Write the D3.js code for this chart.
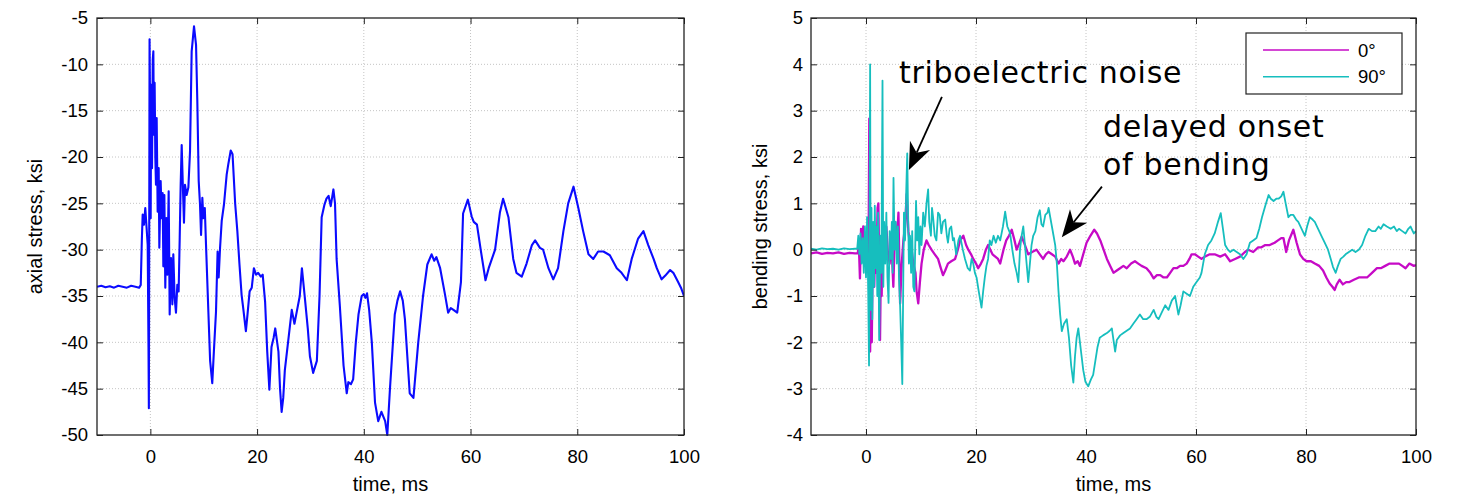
<!DOCTYPE html>
<html>
<head>
<meta charset="utf-8">
<script src="https://cdn.jsdelivr.net/npm/d3@7"></script>
<style>
  body { margin: 0; background: #fff; }
  svg { display: block; }
  .tick text { font-family: "Liberation Sans", Arial, sans-serif; font-size: 18.5px; fill: #000; }
</style>
</head>
<body>
<svg id="chart" width="1458" height="496"></svg>
<script>
// ---- data: time (ms), stress (ksi) ----
const axialStress = [
  [-10,-34.0],[-9.2,-33.9],[-8.4,-34.05],[-7.6,-33.95],[-6.8,-34.1],[-6,-33.9],[-5.2,-34.0],[-4.4,-34.1],
  [-3.6,-33.9],[-2.8,-34.0],[-2.1,-34.1],[-1.8,-33.8],[-1.6,-29],[-1.44,-26.2],[-1.2,-27.3],[-0.95,-25.5],
  [-0.7,-27.7],[-0.5,-29.5],[-0.35,-40.5],[-0.28,-47.1],[-0.22,-30],[-0.15,-7.3],[-0.05,-15],[0.06,-26.6],
  [0.15,-12.2],[0.31,-21.2],[0.45,-9.5],[0.56,-8.6],[0.66,-17.6],[0.8,-12],[0.93,-20],[1.05,-23],
  [1.18,-15.8],[1.37,-25.9],[1.56,-21.2],[1.68,-29.8],[1.93,-22.6],[2.12,-26.6],[2.3,-23.9],[2.43,-31.8],
  [2.62,-24.1],[2.8,-34.1],[2.99,-26.6],[3.18,-32.7],[3.43,-23.7],[3.62,-37],[3.87,-30.9],[4.12,-35.9],
  [4.3,-30.5],[4.55,-35.2],[4.8,-36.8],[5.05,-33.8],[5.3,-34.5],[5.5,-28.7],[5.68,-23],[5.87,-18.7],
  [6.06,-22.6],[6.3,-27.1],[6.49,-23],[6.8,-24.1],[7.12,-23.3],[7.43,-19.4],[7.74,-8.6],[8.18,-5.9],
  [8.56,-7.9],[8.8,-14],[9.06,-22.6],[9.3,-25.1],[9.5,-28.4],[9.74,-24.4],[9.93,-26.6],[10.2,-25.5],
  [10.43,-29.5],[10.87,-36.7],[11.2,-42],[11.6,-44.4],[11.9,-41],[12.3,-36.7],[12.6,-30.2],[12.8,-33],
  [13.06,-29.8],[13.37,-26.9],[13.8,-25.1],[14.3,-21.9],[14.6,-20.8],[15.06,-19.3],[15.4,-19.7],[15.9,-25.1],
  [16.3,-28],[16.7,-31.6],[17.1,-34.9],[17.4,-36.3],[17.9,-38.8],[18.2,-37],[18.6,-34.5],[19.0,-34.1],
  [19.4,-32],[19.8,-32.7],[20.2,-32.5],[20.7,-32.9],[21.05,-32.7],[21.5,-35.6],[21.9,-41],[22.3,-45.1],
  [22.7,-40.5],[23.1,-39.5],[23.4,-38.5],[24.0,-41],[24.3,-45],[24.6,-47.5],[24.9,-46],[25.2,-43],
  [25.8,-40],[26.5,-36.5],[27.0,-38],[27.5,-36.5],[28.0,-35],[28.4,-32],[29.0,-35.5],[29.5,-38.5],
  [29.9,-41.5],[30.5,-43.3],[31.2,-42],[31.7,-35],[32.1,-26.5],[32.6,-25.2],[33.0,-24.5],[33.4,-24.2],
  [33.8,-25.3],[34.3,-23.5],[34.6,-25],[34.9,-31],[35.5,-36],[36.2,-42.5],[36.8,-45.5],[37.1,-44.3],
  [37.6,-44.5],[38.0,-44],[38.5,-40],[39.0,-37],[39.6,-35],[40.0,-34.8],[40.3,-35.2],[40.6,-34.7],
  [41.0,-36.5],[41.5,-40],[42.1,-46.5],[42.7,-48.5],[43.3,-47.5],[44.0,-48.5],[44.4,-50],[44.9,-45],
  [45.8,-37],[46.3,-35.5],[46.8,-34.5],[47.3,-35.5],[47.7,-37.5],[48.6,-45.5],[49.3,-46],[50.2,-40],
  [51.1,-35],[51.9,-31.6],[52.7,-30.5],[53.2,-31.2],[53.6,-30.8],[54.3,-32],[55.2,-34.8],[55.8,-36.8],
  [56.3,-36.3],[56.8,-36.5],[57.5,-36.8],[58.2,-33.5],[58.6,-26.1],[59.5,-24.6],[60.2,-26.4],[60.6,-27],
  [61.2,-27.3],[61.9,-30],[62.8,-33.3],[63.4,-32],[64.0,-31],[64.6,-30],[65.5,-26],[66.1,-24.5],
  [67.1,-26.5],[68.0,-31],[68.6,-32.5],[69.6,-32.9],[70.5,-31.5],[71.5,-29.5],[72.1,-29],[73.0,-29.8],
  [73.6,-30],[74.6,-32],[75.5,-33.2],[76.4,-32],[77.4,-28],[78.3,-25],[79.3,-23.2],[80.2,-25.5],
  [81.1,-28],[82.1,-30.5],[83.0,-31],[83.9,-30.2],[84.9,-30.2],[86.1,-30.6],[87.4,-32],[88.3,-32.5],
  [89.3,-33.3],[90.2,-31],[91.4,-28.8],[92.4,-28],[93.3,-29.5],[94.3,-31],[94.9,-32],[95.8,-33.2],
  [96.5,-32.8],[97.4,-32.2],[98.0,-32.5],[98.9,-33.5],[99.5,-34.2],[100,-35]
];

const bending0 = [
  [-10,-0.08],[-9,-0.06],[-8,-0.09],[-7,-0.07],[-6,-0.08],[-5,-0.06],[-4,-0.09],[-3,-0.07],[-2,-0.08],
  [-1.5,-0.08],[-1.3,0.1],[-1.1,-0.62],[-0.9,0.45],[-0.7,0.0],[-0.5,0.5],[-0.3,-0.3],[-0.1,0.3],[0.1,-0.4],
  [0.3,0.2],[0.45,-0.5],[0.6,2.83],[0.75,-2.2],[0.9,-0.5],[1.05,-2.0],[1.2,-0.3],[1.35,0.5],[1.5,-0.8],
  [1.7,0.2],[1.9,-0.5],[2.1,0.9],[2.25,1.0],[2.4,-0.3],[2.55,-1.95],[2.7,-0.4],[2.85,-1.0],[3.0,0.3],
  [3.2,-0.2],[3.4,0.4],[3.7,0.5],[4.0,-0.1],[4.3,-0.3],[4.6,0.2],[4.97,-0.8],[5.3,0.6],[5.6,0.1],
  [5.9,0.8],[6.2,-1.16],[6.5,-0.3],[6.8,0.2],[7.1,0.5],[7.4,1.2],[7.7,0.4],[8.0,0.1],[8.3,0.0],
  [8.6,-0.3],[9.0,-0.5],[9.2,-0.9],[9.5,-1.16],[9.8,-0.7],[10.1,-0.3],[10.5,0.0],[11.0,0.2],[11.4,0.1],
  [11.9,0.0],[12.5,-0.1],[13.1,-0.2],[13.6,-0.4],[14.0,-0.55],[14.4,-0.45],[14.9,-0.3],[15.5,-0.25],
  [16.2,-0.2],[16.7,0.0],[17.1,0.2],[17.7,0.3],[18.2,0.1],[18.6,0.0],[19.1,-0.1],[19.5,-0.2],[20.0,-0.3],
  [20.4,-0.4],[20.9,-0.3],[21.3,-0.2],[21.8,0.0],[22.2,0.1],[22.6,0.0],[23.0,-0.1],[23.5,-0.15],
  [24.0,-0.2],[24.4,-0.3],[25.0,0.0],[25.5,0.2],[26.0,0.3],[26.5,0.43],[27.0,0.2],[27.4,0.0],[27.9,0.15],
  [28.3,0.28],[28.9,0.1],[29.5,-0.1],[30.2,-0.05],[31.0,0.0],[31.6,-0.1],[32.2,-0.2],[32.7,-0.1],
  [33.2,-0.05],[33.8,-0.1],[34.4,-0.15],[35.0,-0.3],[35.5,-0.2],[35.9,-0.25],[36.5,-0.15],[37.1,0.0],
  [37.6,-0.15],[38.0,-0.3],[38.5,-0.25],[38.9,-0.35],[39.5,-0.1],[40.1,0.15],[40.8,0.3],[41.5,0.43],
  [42.0,0.35],[42.6,0.2],[43.2,0.0],[43.8,-0.2],[44.4,-0.35],[45.0,-0.5],[45.6,-0.45],[46.2,-0.4],
  [46.8,-0.35],[47.4,-0.4],[48.2,-0.3],[48.9,-0.25],[49.5,-0.3],[50.1,-0.35],[51.0,-0.4],[51.7,-0.5],
  [52.3,-0.62],[52.9,-0.55],[53.5,-0.55],[54.1,-0.6],[54.7,-0.6],[55.3,-0.5],[55.9,-0.4],[56.5,-0.4],
  [57.1,-0.35],[57.7,-0.35],[58.3,-0.3],[58.8,-0.2],[59.2,-0.1],[59.8,-0.1],[60.4,-0.15],[61.0,-0.2],
  [61.6,-0.15],[62.5,-0.1],[63.4,-0.1],[64.4,-0.15],[65.3,-0.1],[66.2,-0.25],[67.1,-0.2],[68.0,-0.15],
  [68.9,-0.05],[69.5,0.0],[70.4,-0.05],[71.3,0.05],[71.9,0.05],[72.6,0.1],[73.4,0.1],[74.3,0.15],
  [74.9,0.2],[75.5,0.25],[75.9,0.25],[76.4,-0.05],[76.9,0.2],[77.7,0.43],[78.3,0.15],[78.9,-0.1],
  [79.5,-0.2],[80.1,-0.25],[80.9,-0.25],[81.6,-0.3],[82.4,-0.35],[83.1,-0.45],[83.7,-0.6],[84.3,-0.73],
  [84.8,-0.8],[85.2,-0.87],[85.6,-0.75],[86.1,-0.65],[86.7,-0.75],[87.3,-0.7],[87.9,-0.7],[88.7,-0.65],
  [89.6,-0.6],[90.3,-0.6],[91.1,-0.6],[92.0,-0.5],[92.9,-0.4],[93.6,-0.4],[94.4,-0.35],[95.2,-0.3],
  [96.0,-0.3],[96.9,-0.3],[97.5,-0.35],[98.1,-0.4],[98.8,-0.3],[99.6,-0.35],[100,-0.33]
];

const bending90 = [
  [-10,0.02],[-9,0.0],[-8,0.03],[-7,0.01],[-6,0.02],[-5,0.0],[-4,0.03],[-3,0.01],[-2,0.02],[-1.6,0.02],
  [-1.4,0.3],[-1.2,-0.1],[-1.0,0.35],[-0.8,-0.3],[-0.6,0.25],[-0.4,-0.5],[-0.2,0.5],[0.0,-0.6],[0.2,0.7],
  [0.4,-0.9],[0.55,-2.5],[0.65,0.5],[0.75,4.0],[0.85,-1.3],[1.0,0.9],[1.15,-1.5],[1.3,0.6],[1.45,-0.8],
  [1.6,0.95],[1.75,-0.4],[1.9,0.5],[2.05,-1.0],[2.2,0.8],[2.4,-1.95],[2.6,0.3],[2.8,-0.5],[3.0,3.65],
  [3.15,-0.8],[3.3,0.6],[3.5,-0.3],[3.7,0.8],[3.9,-0.6],[4.1,-1.15],[4.3,0.4],[4.5,-0.2],[4.7,0.6],
  [4.85,-0.5],[5.0,1.55],[5.2,0.0],[5.4,0.6],[5.6,-0.3],[5.8,0.5],[6.0,-0.6],[6.2,-1.2],[6.4,-2.0],
  [6.6,-2.9],[6.75,-1.0],[6.9,0.8],[7.1,0.2],[7.3,1.2],[7.5,2.08],[7.65,0.8],[7.8,-0.3],[8.0,0.3],
  [8.2,-0.5],[8.4,0.4],[8.6,-0.8],[8.8,-0.9],[9.0,0.4],[9.1,1.05],[9.3,0.2],[9.5,0.7],[9.7,-0.1],
  [9.9,0.5],[10.1,0.1],[10.4,0.8],[10.7,0.5],[11.0,1.0],[11.3,1.3],[11.5,0.6],[11.8,0.3],[12.0,0.9],
  [12.2,0.7],[12.5,0.3],[12.8,0.2],[13.1,0.8],[13.4,0.75],[13.7,0.35],[14.0,0.6],[14.4,0.65],[14.7,0.3],
  [14.9,0.15],[15.2,0.45],[15.5,0.5],[15.8,0.2],[16.0,0.25],[16.4,-0.1],[16.8,0.2],[17.1,0.3],[17.6,0.0],
  [18.0,-0.2],[18.5,-0.4],[18.9,-0.45],[19.2,-0.2],[19.5,-0.3],[19.8,-0.5],[20.1,-0.6],[20.5,-0.9],
  [21.0,-1.25],[21.3,-0.9],[21.6,-0.6],[21.9,-0.35],[22.2,-0.2],[22.5,0.2],[22.8,0.1],[23.2,0.3],
  [23.6,0.15],[24.0,0.3],[24.4,0.2],[24.9,0.5],[25.3,0.82],[25.7,0.5],[26.2,0.35],[26.6,0.0],[27.0,-0.3],
  [27.4,-0.5],[27.7,-0.7],[28.0,0.0],[28.3,0.3],[28.6,0.5],[28.9,0.1],[29.2,-0.3],[29.5,-0.7],[29.8,-0.3],
  [30.1,0.1],[30.4,0.3],[30.8,0.4],[31.2,0.7],[31.6,0.85],[31.9,0.55],[32.2,0.5],[32.6,0.75],[33.0,0.8],
  [33.2,0.9],[33.5,0.7],[33.8,0.5],[34.1,0.3],[34.4,0.1],[34.7,-0.3],[35.0,-0.9],[35.3,-1.4],[35.6,-1.76],
  [36.0,-1.6],[36.5,-1.5],[36.9,-1.9],[37.3,-2.5],[37.7,-2.87],[38.0,-2.3],[38.3,-1.9],[38.6,-1.7],
  [38.9,-2.0],[39.2,-2.3],[39.5,-2.6],[39.9,-2.85],[40.4,-2.95],[40.9,-2.8],[41.3,-2.7],[41.7,-2.4],
  [42.1,-2.1],[42.5,-1.9],[43.1,-1.85],[43.8,-1.8],[44.3,-1.75],[44.7,-1.7],[45.0,-1.95],[45.3,-2.2],
  [45.6,-1.95],[46.2,-1.85],[46.8,-1.8],[47.4,-1.75],[48.0,-1.7],[48.6,-1.6],[49.2,-1.5],[49.8,-1.4],
  [50.4,-1.5],[51.0,-1.5],[51.6,-1.45],[52.3,-1.3],[52.8,-1.45],[53.2,-1.5],[53.8,-1.35],[54.4,-1.2],
  [55.0,-1.3],[55.6,-1.1],[56.2,-1.0],[56.8,-1.4],[57.2,-1.2],[57.7,-0.9],[58.3,-0.95],[58.9,-1.0],
  [59.5,-0.8],[60.1,-0.7],[60.7,-0.6],[61.0,-0.5],[61.3,-0.3],[61.6,-0.1],[62.2,0.1],[62.8,0.2],
  [63.4,0.35],[64.0,0.6],[64.5,0.79],[64.9,0.45],[65.3,0.1],[65.8,0.0],[66.2,-0.05],[66.8,0.0],
  [67.4,-0.05],[68.0,-0.1],[68.6,-0.2],[69.2,-0.1],[69.8,0.15],[70.4,0.2],[71.0,0.25],[71.5,0.45],
  [72.0,0.7],[72.6,0.95],[73.2,1.18],[73.6,1.1],[74.1,1.05],[74.6,1.1],[75.0,1.1],[75.5,1.15],[75.9,1.25],
  [76.3,1.0],[76.8,0.7],[77.2,0.75],[77.7,0.75],[78.2,0.65],[78.6,0.6],[79.2,0.45],[79.8,0.3],[80.2,0.5],
  [80.7,0.7],[81.2,0.65],[81.6,0.6],[82.2,0.45],[82.8,0.3],[83.4,0.15],[84.0,0.0],[84.5,-0.2],[84.9,-0.37],
  [85.4,-0.5],[85.8,-0.35],[86.3,-0.2],[86.8,-0.15],[87.2,-0.1],[87.8,-0.05],[88.4,0.0],[89.0,-0.05],
  [89.6,0.0],[90.2,0.1],[90.8,0.3],[91.4,0.45],[92.0,0.4],[92.6,0.4],[93.2,0.5],[93.6,0.45],[94.1,0.55],
  [94.7,0.5],[95.4,0.45],[96.0,0.5],[96.5,0.4],[96.9,0.45],[97.5,0.4],[98.1,0.35],[98.6,0.45],[99.0,0.5],
  [99.6,0.35],[100,0.4]
];

const timeTicks = [0, 20, 40, 60, 80, 100];
const axialTicks = [-50, -45, -40, -35, -30, -25, -20, -15, -10, -5];
const bendingTicks = [-4, -3, -2, -1, 0, 1, 2, 3, 4, 5];
const legendLabels = ["0\u00B0", "90\u00B0"];

// ---- drawing ----
const svg = d3.select("#chart");
const LABEL_FONT = "'Liberation Sans', Arial, sans-serif";
const plain = d => String(d);   // ASCII hyphen for negative tick labels

function panel(cfg) {
  const { left, top, right, bottom, yDomain, yTicks, yLabel, labelX, tickPad, id } = cfg;
  const x = d3.scaleLinear().domain([-10, 100]).range([left, right]);
  const y = d3.scaleLinear().domain(yDomain).range([bottom, top]);
  const g = svg.append("g");

  // dotted grid
  const grid = g.append("g").attr("stroke", "#c4c4c4").attr("stroke-width", 1)
    .attr("stroke-dasharray", "1,2");
  grid.selectAll(".gx").data(timeTicks.filter(t => t < 100)).join("line")
    .attr("x1", d => x(d)).attr("x2", d => x(d)).attr("y1", top).attr("y2", bottom);
  grid.selectAll(".gy").data(yTicks.filter(v => v > yDomain[0] && v < yDomain[1])).join("line")
    .attr("y1", d => y(d)).attr("y2", d => y(d)).attr("x1", left).attr("x2", right);

  // data lines
  g.append("clipPath").attr("id", id).append("rect")
    .attr("x", left).attr("y", top - 1).attr("width", right - left).attr("height", bottom - top + 2);
  const line = d3.line().x(d => x(d[0])).y(d => y(d[1]));
  const plot = g.append("g").attr("clip-path", `url(#${id})`);
  cfg.series.forEach(s => {
    plot.append("path").datum(s.data).attr("d", line).attr("fill", "none")
      .attr("stroke", s.color).attr("stroke-width", s.width).attr("stroke-linejoin", "round");
  });

  // axes with inward ticks on all four sides
  const ax = (axis, tx, ty) => {
    const a = g.append("g").attr("transform", `translate(${tx},${ty})`).call(axis);
    a.select(".domain").remove();
    a.selectAll(".tick line").attr("stroke", "#222").attr("stroke-width", 1);
    return a;
  };
  ax(d3.axisBottom(x).tickValues(timeTicks).tickSize(-6).tickPadding(15).tickFormat(plain), 0, bottom);
  ax(d3.axisTop(x).tickValues(timeTicks).tickSize(-6).tickFormat(""), 0, top);
  ax(d3.axisLeft(y).tickValues(yTicks).tickSize(-6).tickPadding(tickPad).tickFormat(plain), left, 0);
  ax(d3.axisRight(y).tickValues(yTicks).tickSize(-6).tickFormat(""), right, 0);

  g.append("rect").attr("x", left).attr("y", top).attr("width", right - left)
    .attr("height", bottom - top).attr("fill", "none").attr("stroke", "#222").attr("stroke-width", 1.3);

  // axis titles
  g.append("text").attr("x", (left + right) / 2).attr("y", 491).attr("text-anchor", "middle")
    .attr("font-family", LABEL_FONT).attr("font-size", 20).text("time, ms");
  g.append("text").attr("transform", `translate(${labelX},${(top + bottom) / 2}) rotate(-90)`)
    .attr("text-anchor", "middle").attr("font-family", LABEL_FONT).attr("font-size", 20).text(yLabel);

  return { x, y, g };
}

panel({
  id: "clipA", left: 97, top: 18, right: 684, bottom: 435,
  yDomain: [-50, -5], yTicks: axialTicks, yLabel: "axial stress, ksi", labelX: 42, tickPad: 9,
  series: [{ data: axialStress, color: "#0b0bff", width: 2.1 }]
});

const colors = ["#c60ac6", "#16bebe"];
const B = panel({
  id: "clipB", left: 811, top: 18, right: 1416, bottom: 435,
  yDomain: [-4, 5], yTicks: bendingTicks, yLabel: "bending stress, ksi", labelX: 767, tickPad: 8,
  series: [
    { data: bending0, color: colors[0], width: 2.3 },
    { data: bending90, color: colors[1], width: 1.8 }
  ]
});

// legend
const lg = B.g.append("g");
lg.append("rect").attr("x", 1246).attr("y", 33).attr("width", 156).attr("height", 61)
  .attr("fill", "#fff").attr("stroke", "#222").attr("stroke-width", 1.2);
legendLabels.forEach((lab, i) => {
  const yy = 50 + i * 26.7;
  lg.append("line").attr("x1", 1263).attr("x2", 1349).attr("y1", yy).attr("y2", yy)
    .attr("stroke", colors[i]).attr("stroke-width", 1.6);
  lg.append("text").attr("x", 1358).attr("y", yy + 6.5).attr("font-family", LABEL_FONT)
    .attr("font-size", 18.5).text(lab);
});

// annotations (positioned in data units)
const ANN_FONT = "'DejaVu Sans', Verdana, sans-serif";
const notes = [
  { t: 6.0, v: 3.6, text: "triboelectric noise" },
  { t: 43.1, v: 2.44, text: "delayed onset" },
  { t: 43.1, v: 1.61, text: "of bending" }
];
B.g.selectAll(".note").data(notes).join("text")
  .attr("x", d => B.x(d.t)).attr("y", d => B.y(d.v))
  .attr("font-family", ANN_FONT).attr("font-size", 30).attr("letter-spacing", 0.7)
  .attr("fill", "#000").text(d => d.text);

const arrows = [
  { from: [13.8, 3.3], to: [7.8, 1.72] },
  { from: [42.9, 1.36], to: [35.6, 0.27] }
];
arrows.forEach(a => {
  const x0 = B.x(a.from[0]), y0 = B.y(a.from[1]);
  const x1 = B.x(a.to[0]), y1 = B.y(a.to[1]);
  const len = Math.hypot(x0 - x1, y0 - y1);
  const ux = (x0 - x1) / len, uy = (y0 - y1) / len;   // unit vector tip -> tail
  const px = -uy, py = ux;
  const L = 27, W = 11, N = 19;
  B.g.append("line").attr("x1", x0).attr("y1", y0).attr("x2", x1 + ux * N).attr("y2", y1 + uy * N)
    .attr("stroke", "#000").attr("stroke-width", 1.8);
  const pts = [
    [x1, y1],
    [x1 + ux * L + px * W, y1 + uy * L + py * W],
    [x1 + ux * N, y1 + uy * N],
    [x1 + ux * L - px * W, y1 + uy * L - py * W]
  ];
  B.g.append("path").attr("d", "M" + pts.map(p => p.join(",")).join("L") + "Z").attr("fill", "#000");
});
</script>
</body>
</html>
